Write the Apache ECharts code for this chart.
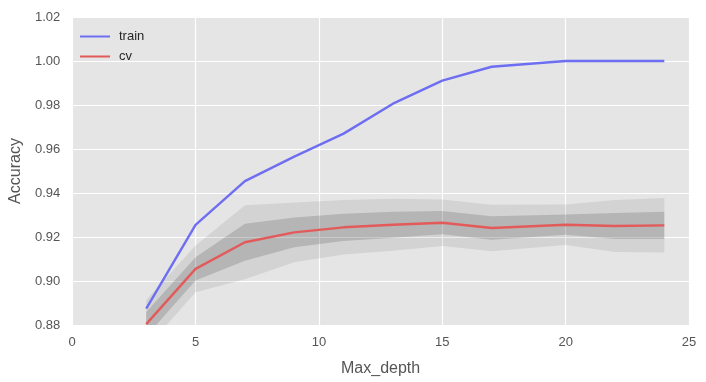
<!DOCTYPE html>
<html>
<head>
<meta charset="utf-8">
<script src="https://cdn.jsdelivr.net/npm/echarts@6/dist/echarts.min.js"></script>
<style>html,body{margin:0;padding:0;background:#fff}#c{width:706px;height:382px}</style>
</head>
<body>
<div id="c"></div>
<script>
var maxDepth = [3, 5, 7, 9, 11, 13, 15, 17, 20, 22, 24];
var trainAcc = [0.8874, 0.9255, 0.9454, 0.9565, 0.9670, 0.9806, 0.9911, 0.9974, 1.0, 1.0, 1.0];
var cvAcc    = [0.8804, 0.9055, 0.9176, 0.9221, 0.9244, 0.9256, 0.9265, 0.9241, 0.9256, 0.9250, 0.9253];
var cvStd    = [0.0055, 0.0053, 0.0084, 0.0068, 0.0062, 0.0059, 0.0053, 0.0053, 0.0046, 0.0059, 0.0062];
var xTicks = {min: 0, max: 25, interval: 5};
var yTicks = {min: 0.88, max: 1.02, interval: 0.02};

function pairs(ys) { return maxDepth.map(function (x, i) { return [x, ys[i]]; }); }
function bandData(k) {
  return maxDepth.map(function (x, i) { return [x, cvAcc[i] - k * cvStd[i], cvAcc[i] + k * cvStd[i]]; });
}
function makeBand(k, fill) {
  return {
    type: 'custom', silent: true, data: bandData(k),
    encode: {x: 0, y: [1, 2]},
    renderItem: function (params, api) {
      if (params.dataIndex !== 0) return null;
      var pts = [], i, n = maxDepth.length;
      for (i = 0; i < n; i++) pts.push(api.coord([maxDepth[i], cvAcc[i] + k * cvStd[i]]));
      for (i = n - 1; i >= 0; i--) pts.push(api.coord([maxDepth[i], cvAcc[i] - k * cvStd[i]]));
      var cs = params.coordSys;
      return {
        type: 'polygon', shape: {points: pts}, style: {fill: fill},
        clipPath: {type: 'rect', shape: {x: cs.x, y: cs.y, width: cs.width, height: cs.height}}
      };
    }
  };
}

var font = 'Arial, "Liberation Sans", sans-serif';
var lineIcon = 'path://M0,0 L30,0 L30,2 L0,2 Z';
var chart = echarts.init(document.getElementById('c'));
chart.setOption({
  animation: false,
  textStyle: {fontFamily: font},
  grid: {left: 70, right: 17, top: 17, bottom: 57, show: true, backgroundColor: '#e5e5e5', borderWidth: 0},
  legend: {
    data: [{name: 'train', icon: lineIcon}, {name: 'cv', icon: lineIcon}],
    orient: 'vertical', left: 75, top: 25, itemGap: 7,
    itemWidth: 30, itemHeight: 2,
    textStyle: {fontSize: 13, color: '#262626', fontFamily: font, padding: [0, 0, 0, 4]}
  },
  xAxis: {
    type: 'value', min: xTicks.min, max: xTicks.max, interval: xTicks.interval,
    name: 'Max_depth', nameLocation: 'middle', nameGap: 36,
    nameTextStyle: {fontSize: 16, color: '#555', fontFamily: font},
    axisLine: {show: false}, axisTick: {show: false},
    axisLabel: {color: '#555', fontSize: 13, margin: 11},
    splitLine: {show: true, lineStyle: {color: '#fff', width: 1.2}}
  },
  yAxis: {
    type: 'value', min: yTicks.min, max: yTicks.max, interval: yTicks.interval,
    name: 'Accuracy', nameLocation: 'middle', nameGap: 44,
    nameTextStyle: {fontSize: 16, color: '#555', fontFamily: font},
    axisLine: {show: false}, axisTick: {show: false},
    axisLabel: {color: '#555', fontSize: 13, margin: 12, formatter: function (v) { return v.toFixed(2); }},
    splitLine: {show: true, lineStyle: {color: '#fff', width: 1.2}}
  },
  series: [
    makeBand(2, 'rgba(0,0,0,0.08)'),
    makeBand(1, 'rgba(0,0,0,0.14)'),
    {name: 'train', type: 'line', data: pairs(trainAcc), symbol: 'none', color: '#6e6ef2',
      lineStyle: {width: 2.4, color: '#6e6ef2'}},
    {name: 'cv', type: 'line', data: pairs(cvAcc), symbol: 'none', color: '#e35a5a',
      lineStyle: {width: 2.4, color: '#e35a5a'}}
  ]
});
</script>
</body>
</html>
